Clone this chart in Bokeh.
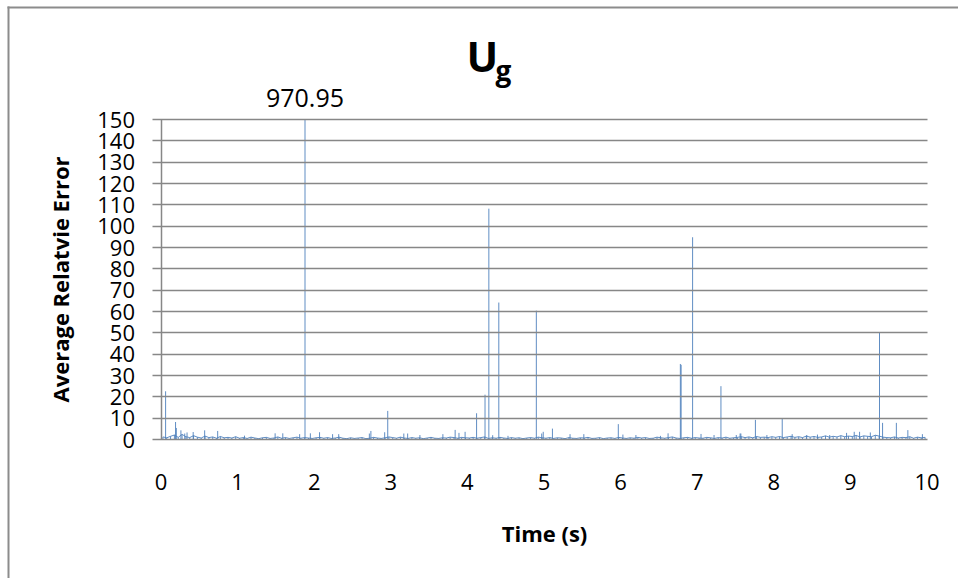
from bokeh.plotting import figure
from bokeh.models import Label, BoxAnnotation, ColumnDataSource, Range1d, FixedTicker, LinearAxis
from bokeh.embed import file_html
from bokeh.resources import INLINE

# ---- data ----
spike_t = [0.06, 0.19, 0.20, 0.26, 0.31, 0.34, 0.42, 0.57, 0.74, 1.09, 1.49, 1.59, 1.81,
           1.88, 1.95, 2.07, 2.24, 2.32, 2.72, 2.74, 2.92, 2.96, 3.17, 3.22, 3.38, 3.68,
           3.84, 3.89, 3.97, 4.12, 4.23, 4.28, 4.33, 4.41, 4.53, 4.90, 4.97, 4.99, 5.11,
           5.34, 5.52, 5.97, 6.03, 6.20, 6.52, 6.62, 6.78, 6.79, 6.94, 7.05, 7.22, 7.31,
           7.51, 7.56, 7.57, 7.76, 7.91, 8.11, 8.24, 8.43, 8.57, 8.73, 8.95, 9.05, 9.12,
           9.26, 9.38, 9.42, 9.60, 9.75, 9.94]
spike_v = [22.6, 8.2, 5.4, 4.3, 2.8, 3.3, 3.5, 4.3, 4.0, 1.8, 2.9, 2.9, 2.5,
           970.95, 2.9, 3.4, 2.5, 2.5, 2.8, 4.0, 3.4, 13.4, 2.8, 2.8, 2.1, 2.5,
           4.5, 3.1, 3.6, 12.3, 21.0, 108.2, 2.0, 64.2, 1.7, 60.4, 2.8, 3.6, 5.1,
           2.5, 2.5, 7.2, 2.3, 2.1, 1.7, 2.9, 35.4, 35.0, 94.8, 2.6, 2.1, 25.0,
           2.1, 2.8, 2.8, 9.2, 2.1, 10.0, 2.5, 2.1, 2.3, 2.1, 3.1, 3.6, 3.6,
           3.3, 50.3, 7.8, 7.8, 4.4, 2.5]

# background noise, one value every 0.05 s starting at 0.025 s
noise_v = [1.2, 0.8, 1.5, 2.1, 1.0, 2.4, 1.3, 0.9, 1.8, 1.1, 0.7, 1.6, 0.9, 1.2, 0.6, 1.4, 0.8, 1.0, 0.7, 1.3,
           0.6, 0.9, 0.5, 1.1, 0.7, 0.4, 0.8, 1.0, 0.5, 0.7, 1.2, 0.6, 0.9, 0.5, 0.8, 1.1, 0.6, 0.9, 0.7, 0.5,
           0.8, 1.0, 0.6, 0.9, 0.5, 0.7, 1.1, 0.6, 0.4, 0.8, 0.5, 0.7, 0.9, 0.4, 0.6, 1.0, 0.7, 0.5, 0.8, 1.2,
           0.9, 0.6, 1.1, 0.7, 0.5, 0.9, 0.6, 0.8, 0.4, 0.7, 1.0, 0.6, 0.5, 0.8, 0.7, 1.1, 0.9, 0.6, 1.0, 0.8,
           0.7, 1.0, 0.6, 0.9, 1.2, 0.5, 0.8, 0.6, 1.0, 0.7, 0.5, 0.9, 0.6, 0.8, 0.4, 0.7, 0.9, 0.6, 1.1, 0.8,
           0.6, 0.9, 0.5, 0.8, 0.7, 0.4, 0.9, 0.6, 0.5, 0.8, 0.7, 1.0, 0.5, 0.6, 0.9, 0.4, 0.7, 0.8, 0.5, 1.0,
           0.7, 0.5, 0.8, 0.6, 1.0, 0.7, 0.9, 0.5, 0.6, 1.1, 0.8, 0.6, 0.9, 1.2, 0.7, 0.5, 0.8, 1.0, 0.6, 0.9,
           0.7, 0.6, 1.0, 0.8, 0.5, 0.9, 0.7, 1.1, 0.6, 0.8, 1.0, 1.3, 0.9, 1.2, 0.8, 1.4, 1.0, 1.1, 0.9, 1.3,
           1.0, 1.4, 0.9, 1.2, 1.5, 1.0, 1.3, 0.9, 1.6, 1.1, 1.4, 1.0, 1.2, 1.7, 1.1, 1.5, 1.2, 1.8, 1.3, 1.6,
           1.4, 1.9, 1.2, 1.7, 1.5, 1.3, 2.0, 1.6, 1.1, 0.9, 0.8, 1.2, 0.7, 1.0, 0.9, 1.3, 0.6, 1.1, 0.8, 1.0]
noise_t = [round(0.025 + 0.05 * i, 3) for i in range(len(noise_v))]

x_ticks = [0, 1, 2, 3, 4, 5, 6, 7, 8, 9, 10]
y_ticks = [0, 10, 20, 30, 40, 50, 60, 70, 80, 90, 100, 110, 120, 130, 140, 150]
title_main = "U"
title_sub = "g"
x_title = "Time (s)"
y_title = "Average Relatvie Error"
clipped_label = "970.95"
clipped_t = 1.88

# ---- layout (pixels) ----
W, H = 958, 578
PX_LEFT, PX_RIGHT = 160.5, 926.5   # x = 0 and x = 10
PX_BOTTOM, PX_TOP = 439.0, 119.0   # y = 0 and y = 150
x0, x1 = x_ticks[0], x_ticks[-1]
y0, y1 = y_ticks[0], y_ticks[-1]
sx = (PX_RIGHT - PX_LEFT) / (x1 - x0)
sy = (PX_BOTTOM - PX_TOP) / (y1 - y0)
xr = Range1d(x0 - PX_LEFT / sx, x1 + (W - PX_RIGHT) / sx)
yr = Range1d(y0 - (H - PX_BOTTOM) / sy, y1 + PX_TOP / sy)

GRID = "#878787"
BORDER = "#8c8c8c"
LINE = "#4f81bd"
FONT = "Open Sans"

p = figure(width=W, height=H, output_backend="svg", toolbar_location=None,
           x_range=xr, y_range=yr, x_axis_type=None, y_axis_type=None,
           min_border=0, min_border_left=0, min_border_right=0,
           min_border_top=0, min_border_bottom=0)
p.outline_line_color = None
p.background_fill_color = "white"
p.border_fill_color = "white"
p.grid.visible = False

# values above the axis maximum are cut at the top of the plot area (as in the original)
shown_v = [min(v, y1) for v in spike_v]
src_noise = ColumnDataSource(dict(t=noise_t, v=noise_v))
src_spike = ColumnDataSource(dict(t=spike_t, v=shown_v))

# y axis: the long inward ticks form the horizontal gridlines
yaxis = LinearAxis(fixed_location=x0, bounds=(y0, y1), ticker=FixedTicker(ticks=y_ticks))
yaxis.axis_line_color = GRID
yaxis.axis_line_width = 1.5
yaxis.major_tick_line_color = GRID
yaxis.major_tick_line_width = 1.5
yaxis.major_tick_out = 9
yaxis.major_tick_in = int(round(PX_RIGHT - PX_LEFT))
yaxis.minor_tick_line_color = None
yaxis.major_label_text_font = FONT
yaxis.major_label_text_font_size = "22px"
yaxis.major_label_text_color = "black"
yaxis.major_label_standoff = 17
yaxis.axis_label = y_title
yaxis.axis_label_text_font = FONT
yaxis.axis_label_text_font_style = "bold"
yaxis.axis_label_text_font_size = "22px"
yaxis.axis_label_text_color = "black"
yaxis.axis_label_standoff = 20
p.add_layout(yaxis, "left")

xaxis = LinearAxis(fixed_location=y0, bounds=(x0, x1), ticker=FixedTicker(ticks=x_ticks))
xaxis.axis_line_color = None
xaxis.major_tick_line_color = None
xaxis.minor_tick_line_color = None
xaxis.major_label_text_font = FONT
xaxis.major_label_text_font_size = "22px"
xaxis.major_label_text_color = "black"
xaxis.major_label_standoff = 28
xaxis.axis_label = x_title
xaxis.axis_label_text_font = FONT
xaxis.axis_label_text_font_style = "bold"
xaxis.axis_label_text_font_size = "22px"
xaxis.axis_label_text_color = "black"
xaxis.axis_label_standoff = 25
p.add_layout(xaxis, "below")

p.line(x="t", y="v", source=src_noise, line_color=LINE, line_width=1, line_alpha=0.9)
p.segment(x0="t", y0=0, x1="t", y1="v", source=src_noise, line_color=LINE, line_width=1, line_alpha=0.9)
p.segment(x0="t", y0=0, x1="t", y1="v", source=src_spike, line_color=LINE, line_width=1, line_alpha=0.9)

# label for the value cut at the top
p.add_layout(Label(x=clipped_t, y=y1, text=clipped_label, text_align="center",
                   text_baseline="alphabetic", y_offset=22, text_font=FONT,
                   text_font_size="25px", text_color="black"))

# title U_g
p.add_layout(Label(x=466, y=55, x_units="canvas", y_units="canvas", text=title_main,
                   text_align="left", text_baseline="alphabetic", text_font=FONT,
                   text_font_style="bold", text_font_size="42px", text_color="black"))
p.add_layout(Label(x=495, y=69, x_units="canvas", y_units="canvas", text=title_sub,
                   text_align="left", text_baseline="alphabetic", text_font=FONT,
                   text_font_style="bold", text_font_size="28px", text_color="black"))

# outer chart border (left and top edges only, as in the original)
p.add_layout(BoxAnnotation(left=7, right=9, top=6, bottom=H,
                           left_units="canvas", right_units="canvas",
                           top_units="canvas", bottom_units="canvas",
                           fill_color=BORDER, fill_alpha=1, line_color=None))
p.add_layout(BoxAnnotation(left=7, right=W, top=6, bottom=8,
                           left_units="canvas", right_units="canvas",
                           top_units="canvas", bottom_units="canvas",
                           fill_color=BORDER, fill_alpha=1, line_color=None))

open("out.html", "w").write(file_html(p, INLINE))
